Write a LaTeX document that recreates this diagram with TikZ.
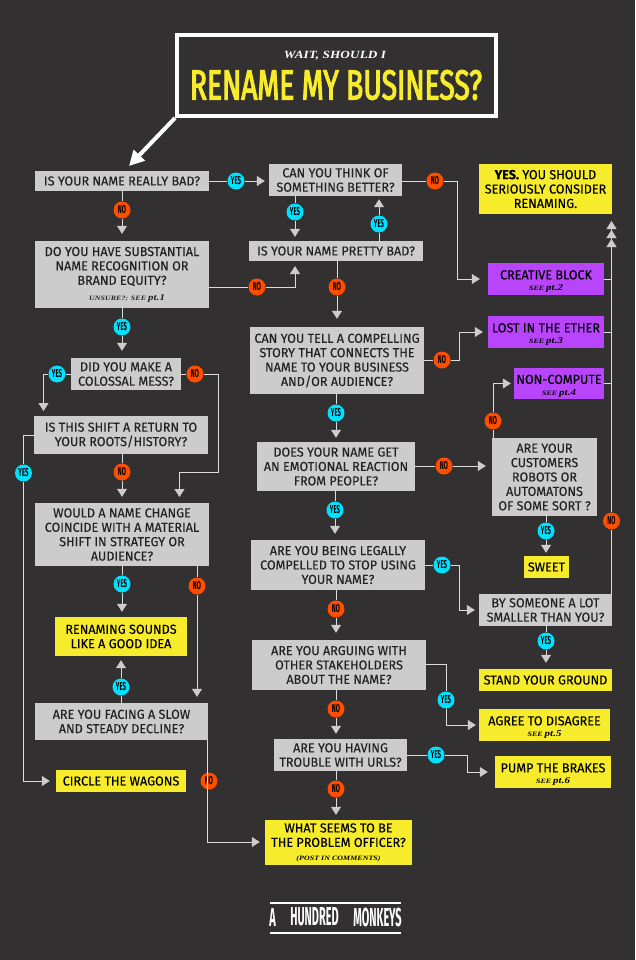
\documentclass[tikz,border=0pt]{standalone}
\usepackage{fontspec}
\usetikzlibrary{arrows.meta}
\setmainfont{Fira Sans}
\newfontfamily\boxfont[FakeStretch=0.97,FakeBold=0.2]{Fira Sans}
\newfontfamily\tagfont[FakeStretch=0.52]{Fira Sans}
\newfontfamily\bigfont[FakeStretch=0.67,FakeBold=2.6]{Fira Sans}
\newfontfamily\logofont[FakeStretch=0.42]{Fira Sans}
\newfontfamily\notefont[FakeStretch=1.2,LetterSpace=1]{Liberation Serif}
\definecolor{bgdark}{HTML}{333031}
\definecolor{boxgrey}{HTML}{CCCCCC}
\definecolor{linegrey}{HTML}{DCDCDC}
\definecolor{goalyellow}{HTML}{F7EC2C}
\definecolor{stuckpurple}{HTML}{B845FB}
\definecolor{yescyan}{HTML}{00E1FF}
\definecolor{noorange}{HTML}{FF4E00}
\definecolor{inkdark}{HTML}{222222}
\tikzset{
  x=1pt, y=-1pt,
  qbox/.style={fill=boxgrey, text=inkdark, inner sep=0pt, align=center,
    font=\boxfont\fontsize{13}{14.4}\selectfont},
  goalbox/.style={qbox, fill=goalyellow, text=black},
  stuckbox/.style={qbox, fill=stuckpurple, text=black},
  yestag/.style={circle, fill=yescyan, minimum size=17pt, inner sep=0pt, text=black,
    font=\tagfont\bfseries\fontsize{11.5}{12}\selectfont},
  notag/.style={yestag, fill=noorange},
  link/.style={draw=linegrey, line width=.8pt},
  flow/.style={link, -{Triangle[length=8pt,width=10pt,color=boxgrey]}, shorten >=5pt},
  logotext/.style={text=white, font=\logofont\bfseries\fontsize{26}{26}\selectfont},
}
\newcommand{\seenote}[2]{{\notefont\bfseries\itshape\fontsize{6.6}{8}\selectfont #1 \fontsize{9}{8}\selectfont #2}}
\newcommand{\topgap}{\rule{0pt}{14pt}}

\begin{document}
\begin{tikzpicture}
  \useasboundingbox[fill=bgdark] (0,0) rectangle (635,960);

  % title
  \node[draw=white, line width=4pt, minimum width=319pt, minimum height=81pt, inner sep=0pt] (titlebox) at (336.5,75.5) {};
  \node[text=white, font=\notefont\bfseries\itshape\fontsize{11}{10}\selectfont] (titlesmall) at (335,56) {WAIT, SHOULD I};
  \node[text=goalyellow, font=\bigfont\fontsize{42}{42}\selectfont] (titlebig) at (336,85) {RENAME MY BUSINESS?};
  \coordinate (titletip) at (129,166);
  \draw[white, line width=4pt, -{Triangle[length=15pt,width=15pt]}] (titlebox.south west) -- (titletip);

  % left column
  \node[qbox, minimum width=174pt, minimum height=20pt] (bad) at (122,181) {IS YOUR NAME REALLY BAD?};
  \node[qbox, minimum width=174pt, minimum height=67pt] (equity) at (122,274.5) {DO YOU HAVE SUBSTANTIAL\\NAME RECOGNITION OR\\BRAND EQUITY?\\[1pt]\hspace*{10pt}\seenote{UNSURE?: SEE}{pt.1}};
  \node[qbox, minimum width=110pt, minimum height=32pt] (mess) at (126,374) {DID YOU MAKE A\\COLOSSAL MESS?};
  \node[qbox, minimum width=174pt, minimum height=38pt] (roots) at (121,435) {IS THIS SHIFT A RETURN TO\\YOUR ROOTS/HISTORY?};
  \node[qbox, minimum width=174pt, minimum height=63pt] (shift) at (122,534.5) {WOULD A NAME CHANGE\\COINCIDE WITH A MATERIAL\\SHIFT IN STRATEGY OR\\AUDIENCE?};
  \node[goalbox, minimum width=132pt, minimum height=39pt] (idea) at (121,636.5) {RENAMING SOUNDS\\LIKE A GOOD IDEA};
  \node[qbox, minimum width=173pt, minimum height=37pt] (decline) at (121.5,721.5) {ARE YOU FACING A SLOW\\AND STEADY DECLINE?};
  \node[goalbox, minimum width=130pt, minimum height=22pt] (wagons) at (121,781) {CIRCLE THE WAGONS};

  % middle column
  \node[qbox, minimum width=133pt, minimum height=32pt] (better) at (335.5,180) {CAN YOU THINK OF\\SOMETHING BETTER?};
  \node[qbox, minimum width=174pt, minimum height=20pt] (pretty) at (336,251) {IS YOUR NAME PRETTY BAD?};
  \node[qbox, minimum width=174pt, minimum height=67pt] (story) at (337,360.5) {CAN YOU TELL A COMPELLING\\STORY THAT CONNECTS THE\\NAME TO YOUR BUSINESS\\AND/OR AUDIENCE?};
  \node[qbox, minimum width=158pt, minimum height=49pt] (reaction) at (336,466.5) {DOES YOUR NAME GET\\AN EMOTIONAL REACTION\\FROM PEOPLE?};
  \node[qbox, minimum width=174pt, minimum height=50pt] (legal) at (338,565) {ARE YOU BEING LEGALLY\\COMPELLED TO STOP USING\\YOUR NAME?};
  \node[qbox, minimum width=174pt, minimum height=50pt] (arguing) at (339,665) {ARE YOU ARGUING WITH\\OTHER STAKEHOLDERS\\ABOUT THE NAME?};
  \node[qbox, minimum width=133pt, minimum height=32pt] (urls) at (340.5,755) {ARE YOU HAVING\\TROUBLE WITH URLS?};
  \node[goalbox, minimum width=147pt, minimum height=45pt] (officer) at (338.5,842.5) {WHAT SEEMS TO BE\\THE PROBLEM OFFICER?\\[-1pt]\seenote{(POST IN COMMENTS)}{}};

  % right column
  \node[goalbox, minimum width=133pt, minimum height=50pt] (yesbox) at (545.5,189) {\textbf{YES.} YOU SHOULD\\SERIOUSLY CONSIDER\\RENAMING.};
  \node[stuckbox, minimum width=116pt, minimum height=32pt] (creative) at (546,279) {\topgap CREATIVE BLOCK\\[-3pt]\seenote{SEE}{pt.2}};
  \node[stuckbox, minimum width=116pt, minimum height=32pt] (ether) at (546,332) {\topgap LOST IN THE ETHER\\[-3pt]\seenote{SEE}{pt.3}};
  \node[stuckbox, minimum width=90pt, minimum height=31pt] (compute) at (559,383.5) {\topgap NON-COMPUTE\\[-3pt]\seenote{SEE}{pt.4}};
  \node[qbox, minimum width=105pt, minimum height=78pt] (robots) at (544.5,477) {ARE YOUR\\CUSTOMERS\\ROBOTS OR\\AUTOMATONS\\OF SOME SORT ?};
  \node[goalbox, minimum width=45pt, minimum height=22pt] (sweet) at (546.5,567) {SWEET};
  \node[qbox, minimum width=133pt, minimum height=32pt] (smaller) at (545.5,610) {BY SOMEONE A LOT\\SMALLER THAN YOU?};
  \node[goalbox, minimum width=133pt, minimum height=22pt] (ground) at (545.5,680) {STAND YOUR GROUND};
  \node[goalbox, minimum width=131pt, minimum height=32pt] (agree) at (544.5,725) {\topgap AGREE TO DISAGREE\\[-3pt]\seenote{SEE}{pt.5}};
  \node[goalbox, minimum width=116pt, minimum height=32pt] (pump) at (553,772) {\topgap PUMP THE BRAKES\\[-3pt]\seenote{SEE}{pt.6}};

  % tags
  \node[yestag] (yesa) at (236,181) {YES};
  \node[notag] (noa) at (122,210) {NO};
  \node[yestag] (yesb) at (295,212) {YES};
  \node[yestag] (yesc) at (379,224) {YES};
  \node[notag] (nob) at (257,287) {NO};
  \node[notag] (noc) at (435,181) {NO};
  \node[notag] (nod) at (337,287) {NO};
  \node[yestag] (yesd) at (122,327) {YES};
  \node[yestag] (yese) at (57,374) {YES};
  \node[notag] (noe) at (195,374) {NO};
  \node[notag] (nof) at (442,360) {NO};
  \node[yestag] (yesf) at (336,413) {YES};
  \node[notag] (nog) at (493,421) {NO};
  \node[notag] (noh) at (444,466) {NO};
  \node[notag] (noi) at (122,472) {NO};
  \node[yestag] (yesg) at (23.5,473) {YES};
  \node[yestag] (yesh) at (335,510) {YES};
  \node[notag] (noj) at (611.5,521) {NO};
  \node[yestag] (yesi) at (546,531) {YES};
  \node[yestag] (yesj) at (442,565) {YES};
  \node[yestag] (yesk) at (122,584) {YES};
  \node[notag] (nok) at (197,586) {NO};
  \node[notag] (nol) at (336,609) {NO};
  \node[yestag] (yesl) at (546,641) {YES};
  \node[yestag] (yesm) at (121,687) {YES};
  \node[yestag] (yesn) at (446,700) {YES};
  \node[notag] (nom) at (336,709) {NO};
  \node[yestag] (yeso) at (436,755) {YES};
  \node[notag] (non) at (209,781) {NO};
  \node[notag] (noo) at (336,789) {NO};

  % corners and free ends
  \coordinate (tipa) at (611.5,221);
  \coordinate (tipb) at (611.5,230);
  \coordinate (tipc) at (611.5,239);
  \coordinate (bendb) at (295,266);
  \coordinate (bendc) at (43.5,416);
  \coordinate (bendd) at (218.5,472);
  \coordinate (tipd) at (179.5,503);
  \coordinate (bende) at (207.5,842);
  \coordinate (bendf) at (447,664);
  \coordinate (bendg) at (457.5,279);
  \coordinate (bendh) at (459,332);
  \coordinate (bendi) at (459,610);
  \coordinate (bendj) at (467,772);

  % left connectors
  \draw[link] (bad) -- (noa);
  \draw[flow, shorten >=7pt] (noa) -- (equity.north -| noa);
  \draw[link] (bad.east |- yesa) -- (yesa);
  \draw[flow, shorten >=4pt] (yesa) -- (yesa -| better.west);
  \draw[link] (equity.south -| yesd) -- (yesd);
  \draw[flow, shorten >=7pt] (yesd) -- (yesd |- mess.north);
  \draw[link] (mess.west |- yese) -- (yese);
  \draw[flow] (yese) -| (bendc);
  \draw[link] (mess.east |- noe) -- (noe);
  \draw[flow, shorten >=6pt] (noe) -| (bendd) -| (tipd);
  \draw[link] (roots.south -| noi) -- (noi);
  \draw[flow, shorten >=6pt] (noi) -- (noi |- shift.north);
  \draw[link] (roots.west) -| (yesg);
  \draw[flow, shorten >=6pt] (yesg) |- (wagons.west);
  \draw[link] (shift.south -| yesk) -- (yesk);
  \draw[flow] (yesk) -- (yesk |- idea.north);
  \draw[link] (nok |- shift.south) -- (nok);
  \draw[flow, shorten >=6pt] (nok) -- (nok |- decline.north);
  \draw[link] (decline.north -| yesm) -- (yesm);
  \draw[flow, shorten >=4pt] (yesm) -- (yesm |- idea.south);
  \draw[link] (bende |- decline.south) -- (bende |- non);
  \draw[flow] (bende |- non) -- (bende) -- (officer.west |- bende);

  % middle connectors
  \draw[link] (better.south -| yesb) -- (yesb);
  \draw[flow, shorten >=4pt] (yesb) -- (yesb |- pretty.north);
  \draw[link] (pretty.north -| yesc) -- (yesc);
  \draw[flow, shorten >=3pt] (yesc) -- (yesc |- better.south);
  \draw[link] (equity.east |- nob) -- (nob);
  \draw[flow, shorten >=0pt] (nob) -| (bendb);
  \draw[link] (better.east |- noc) -- (noc);
  \draw[flow, shorten >=8pt] (noc) -| (bendg) -- (creative.west);
  \draw[link] (pretty.south -| nod) -- (nod);
  \draw[flow, shorten >=8pt] (nod) -- (nod |- story.north);
  \draw[link] (story.east |- nof) -- (nof);
  \draw[flow] (nof) -| (bendh) -- (ether.west);
  \draw[link] (story.south -| yesf) -- (yesf);
  \draw[flow, shorten >=4pt] (yesf) -- (yesf |- reaction.north);
  \draw[link] (reaction.east |- noh) -- (noh);
  \draw[flow, shorten >=6pt] (noh) -- (noh -| robots.west);
  \draw[link] (reaction.south -| yesh) -- (yesh);
  \draw[flow, shorten >=6pt] (yesh) -- (yesh |- legal.north);
  \draw[link] (legal.east |- yesj) -- (yesj);
  \draw[flow, shorten >=4pt] (yesj) -| (bendi) -- (smaller.west);
  \draw[link] (legal.south -| nol) -- (nol);
  \draw[flow, shorten >=7pt] (nol) -- (nol |- arguing.north);
  \draw[link] (arguing.east |- bendf) -| (yesn);
  \draw[flow, shorten >=3pt] (yesn) |- (agree.west);
  \draw[link] (arguing.south -| nom) -- (nom);
  \draw[flow] (nom) -- (nom |- urls.north);
  \draw[link] (urls.east |- yeso) -- (yeso);
  \draw[flow, shorten >=7pt] (yeso) -| (bendj) -- (pump.west);
  \draw[link] (urls.south -| noo) -- (noo);
  \draw[flow] (noo) -- (noo |- officer.north);

  % right connectors
  \draw[link] (robots.north -| nog) -- (nog);
  \draw[flow, shorten >=3pt] (nog) |- (compute.west);
  \draw[link] (robots.south -| yesi) -- (yesi);
  \draw[flow, shorten >=3pt] (yesi) -- (yesi |- sweet.north);
  \draw[link] (smaller.south -| yesl) -- (yesl);
  \draw[flow, shorten >=6pt] (yesl) -- (yesl |- ground.north);
  \draw[link] (smaller.north -| noj) -- (noj);
  \draw[link] (noj) -- (tipc);
  \draw[flow, shorten >=0pt] (creative.east) -| (tipa);
  \draw[flow, shorten >=0pt] (ether.east) -| (tipb);
  \draw[flow, shorten >=0pt] (compute.east) -| (tipc);

  % logo
  \node[logotext] (logoa) at (272.5,917) {A};
  \node[logotext] (logob) at (314.5,917) {HUNDRED};
  \node[logotext] (logoc) at (377.5,917) {MONKEYS};
  \coordinate (rulea) at (270,903);
  \coordinate (ruleb) at (401,903);
  \coordinate (rulec) at (270,933);
  \coordinate (ruled) at (401,933);
  \draw[white, line width=2pt] (rulea) -- (ruleb);
  \draw[white, line width=2pt] (rulec) -- (ruled);
\end{tikzpicture}
\end{document}
